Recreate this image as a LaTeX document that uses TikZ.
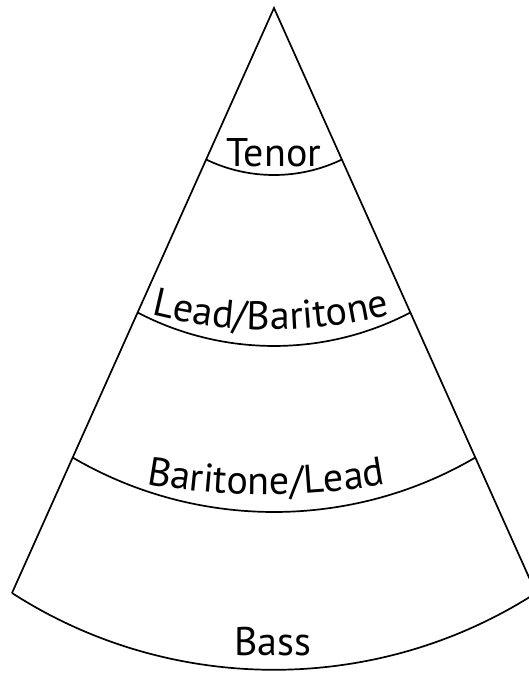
\documentclass[tikz,border=0pt]{standalone}
\usepackage{fontspec}
\setmainfont{PT Sans}
\usetikzlibrary{calc,decorations.text}
\newcommand\lblfont{\fontsize{40}{48}\selectfont}
\begin{document}
\begin{tikzpicture}[x=1pt,y=1pt,
  outline/.style={line width=1.7pt, line join=miter},
  lbl/.style={font=\lblfont, inner sep=0pt, anchor=base},
  curvedlbl/.style={decorate, decoration={text along path, text={|\lblfont|#1}, text align=center}}]
\useasboundingbox (0,0) rectangle (529,-673);
\clip (0,0) rectangle (529,-673);
\coordinate (apex) at (274,-8);
\coordinate (bl) at (12,-593);
\coordinate (br) at (536,-593);
\coordinate (t1l) at ($(apex)!0.259!(bl)$);
\coordinate (t1r) at ($(apex)!0.259!(br)$);
\coordinate (t2l) at ($(apex)!0.5205!(bl)$);
\coordinate (t2r) at ($(apex)!0.5205!(br)$);
\coordinate (t3l) at ($(apex)!0.7684!(bl)$);
\coordinate (t3r) at ($(apex)!0.7684!(br)$);
% outline of the cone
\draw[outline] (bl) -- (apex) -- (br) to[bend left=32.8, looseness=0.925] (bl);
% dividing arcs
\draw[outline] (t1l) to[bend right=25.8, looseness=0.896] (t1r);
\draw[outline] (t2l) to[bend right=27.7, looseness=0.903] (t2r);
\draw[outline] (t3l) to[bend right=30.4, looseness=0.914] (t3r);
% labels
\node[lbl] (tenor) at (274,-166) {Tenor};
\node[lbl] (bass) at (273,-655) {Bass};
\coordinate (lbs) at (121,-306);
\coordinate (lbe) at (421,-306);
\path[curvedlbl={Lead/Baritone}] (lbs) to[bend right=18, looseness=0.873] (lbe);
\coordinate (bls) at (116,-478);
\coordinate (ble) at (416,-478);
\path[curvedlbl={Baritone/Lead}] (bls) to[bend right=12.9, looseness=0.862] (ble);
\end{tikzpicture}
\end{document}
